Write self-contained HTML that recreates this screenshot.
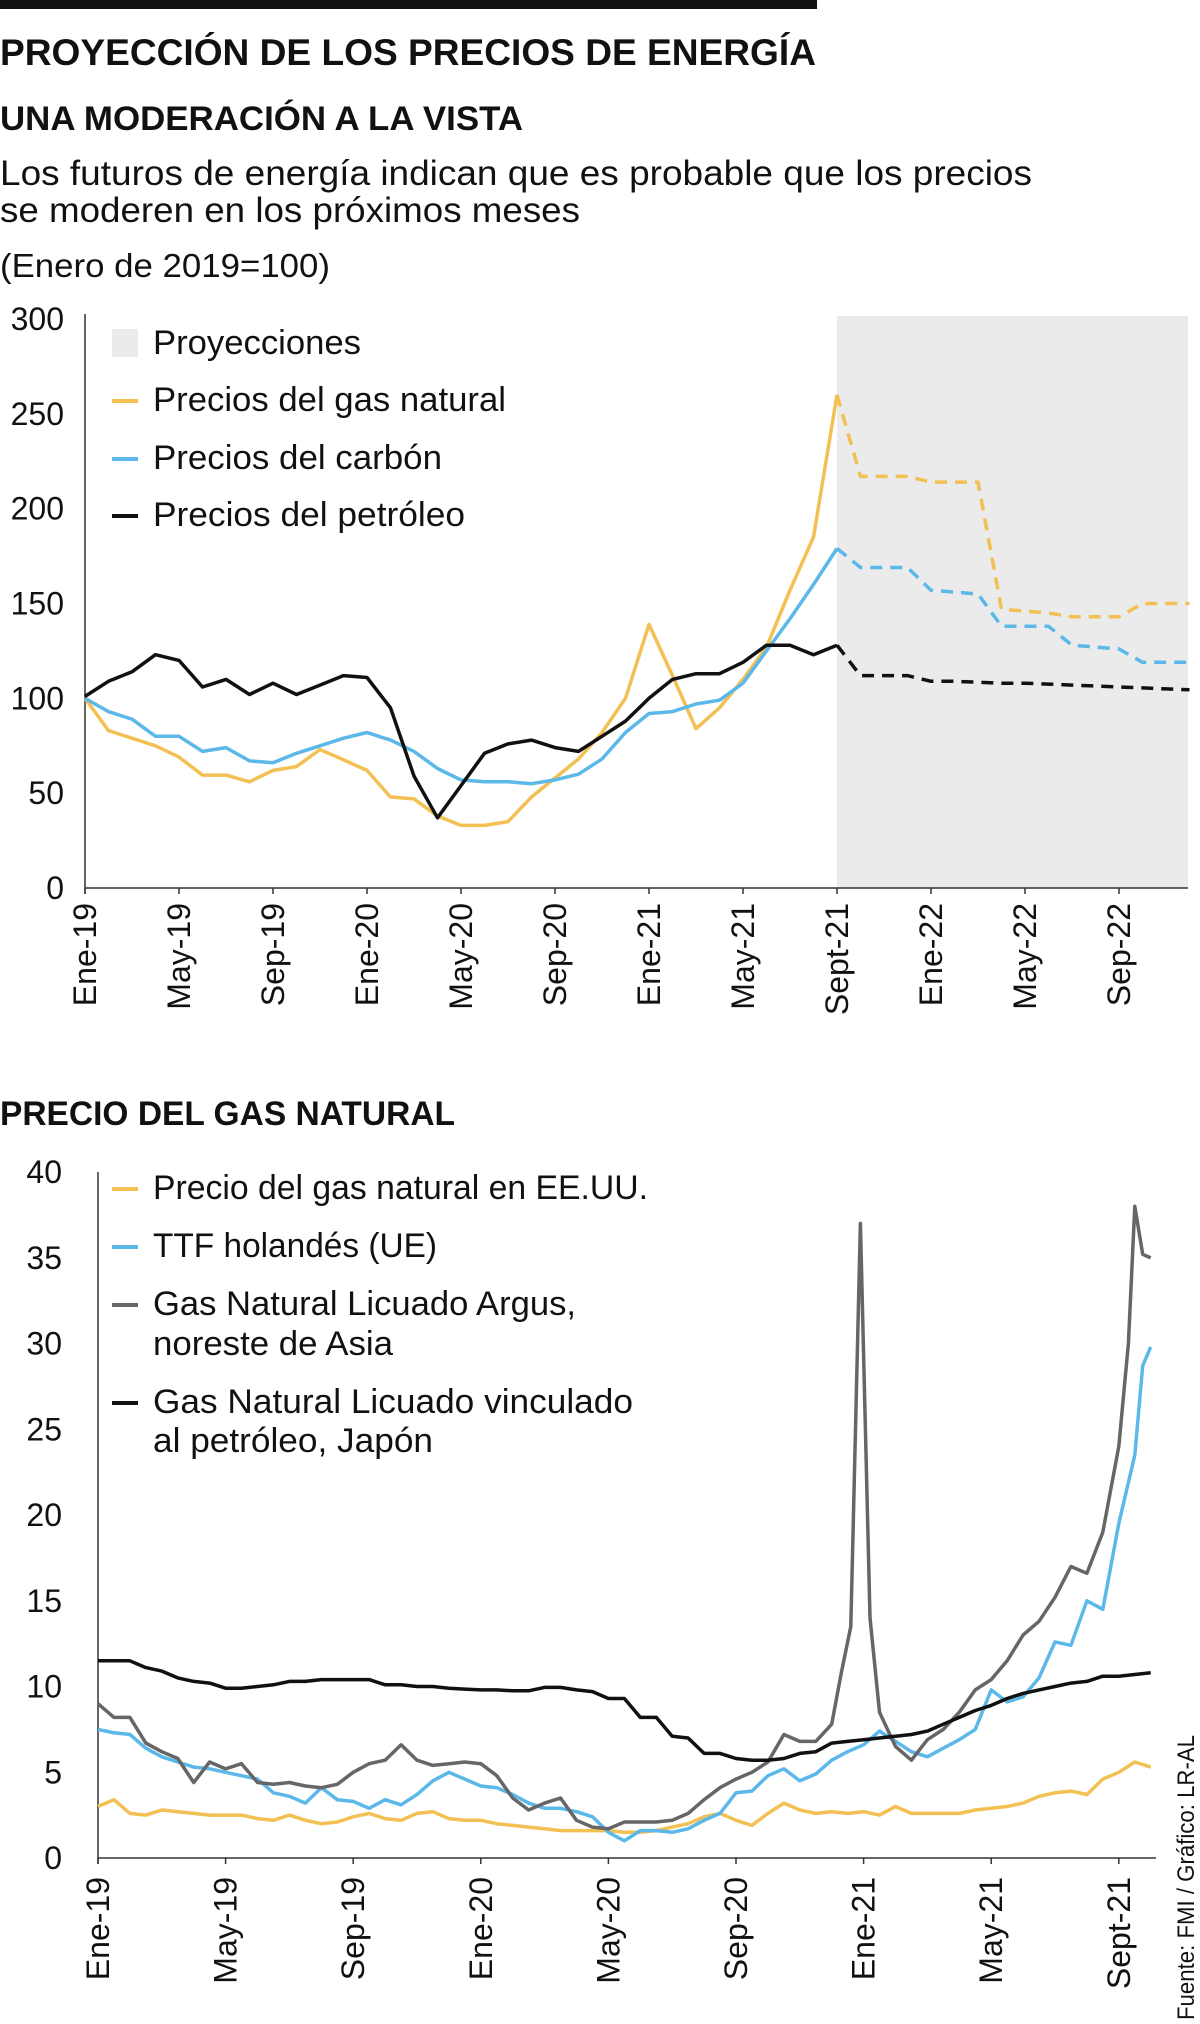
<!DOCTYPE html>
<html><head><meta charset="utf-8"><style>
html,body{margin:0;padding:0;background:#fff;}
svg{display:block;font-family:"Liberation Sans",sans-serif;}
</style></head><body>
<svg id="svg" width="1200" height="2024" viewBox="0 0 1200 2024" xmlns="http://www.w3.org/2000/svg">
<rect x="0" y="0" width="817" height="9" fill="#111"/>
<text x="0" y="65" font-size="37" font-weight="bold" fill="#111" textLength="816" lengthAdjust="spacingAndGlyphs">PROYECCIÓN DE LOS PRECIOS DE ENERGÍA</text>
<text x="0" y="130" font-size="34" font-weight="bold" fill="#111" textLength="523" lengthAdjust="spacingAndGlyphs">UNA MODERACIÓN A LA VISTA</text>
<text x="0" y="185" font-size="35" fill="#111" textLength="1032" lengthAdjust="spacingAndGlyphs">Los futuros de energía indican que es probable que los precios</text>
<text x="0" y="222" font-size="35" fill="#111" textLength="580" lengthAdjust="spacingAndGlyphs">se moderen en los próximos meses</text>
<text x="0" y="277" font-size="33" fill="#111" textLength="330" lengthAdjust="spacingAndGlyphs">(Enero de 2019=100)</text>
<g id="chart1"></g>
<text x="0" y="1125" font-size="34" font-weight="bold" fill="#111" textLength="455" lengthAdjust="spacingAndGlyphs">PRECIO DEL GAS NATURAL</text>
<g id="chart2"></g>
<text x="1194" y="2020" font-size="24" fill="#111" textLength="285" lengthAdjust="spacingAndGlyphs" transform="rotate(-90 1194 2020)">Fuente: FMI / Gráfico: LR-AL</text>
</svg>
<script>
// ---------- Chart 1 data ----------
const c1XLabels = ["Ene-19","May-19","Sep-19","Ene-20","May-20","Sep-20","Ene-21","May-21","Sept-21","Ene-22","May-22","Sep-22"];
const c1YTicks = [0,50,100,150,200,250,300];
const gasHist = [100,83,79,75,69,59.5,59.5,56,62,64,73,67.6,62,48,47,38,33,33,35,48,58,68,82,100,139,112,84,95,110,127,157,185,260];
const coalHist = [100,93,89,80,80,72,74,67,66,71,75,79,82,78,72,63,57,56,56,55,57,60,68,82,92,93,97,99,108,125,142,160,179];
const oilHist = [101,109,114,123,120,106,110,102,108,102,107,112,111,95,59,37,54,71,76,78,74,72,80,88,100,110,113,113,119,128,128,123,128];
const gasProj = [260,217,217,217,214,214,214,147,146,145,143,143,143,150,150,150];
const coalProj = [179,169,169,169,157,156,155,138,138,138,128,127,126,119,119,119];
const oilProj = [128,112,112,112,109,109,108.5,108,108,107.5,107,106.5,106,105.5,105,104.5];
const projStart = 32;

// ---------- Chart 2 data ----------
const c2XLabels = ["Ene-19","May-19","Sep-19","Ene-20","May-20","Sep-20","Ene-21","May-21","Sept-21"];
const c2YTicks = [0,5,10,15,20,25,30,35,40];
const halfMonths = [0,0.5,1,1.5,2,2.5,3,3.5,4,4.5,5,5.5,6,6.5,7,7.5,8,8.5,9,9.5,10,10.5,11,11.5,12,12.5,13,13.5,14,14.5,15,15.5,16,16.5,17,17.5,18,18.5,19,19.5,20,20.5,21,21.5,22,22.5,23,23.5,24,24.5,25,25.5,26,26.5,27,27.5,28,28.5,29,29.5,30,30.5,31,31.5,32,32.5,33];
const usGas = [3.0,3.4,2.6,2.5,2.8,2.7,2.6,2.5,2.5,2.5,2.3,2.2,2.5,2.2,2.0,2.1,2.4,2.6,2.3,2.2,2.6,2.7,2.3,2.2,2.2,2.0,1.9,1.8,1.7,1.6,1.6,1.6,1.6,1.5,1.5,1.6,1.8,2.0,2.4,2.6,2.2,1.9,2.6,3.2,2.8,2.6,2.7,2.6,2.7,2.5,3.0,2.6,2.6,2.6,2.6,2.8,2.9,3.0,3.2,3.6,3.8,3.9,3.7,4.6,5.0,5.6,5.3];
const japanLng = [11.5,11.5,11.5,11.1,10.9,10.5,10.3,10.2,9.9,9.9,10.0,10.1,10.3,10.3,10.4,10.4,10.4,10.4,10.1,10.1,10.0,10.0,9.9,9.85,9.8,9.8,9.75,9.75,9.95,9.95,9.8,9.7,9.3,9.3,8.2,8.2,7.1,7.0,6.1,6.1,5.8,5.7,5.7,5.8,6.1,6.2,6.7,6.8,6.9,7.0,7.1,7.2,7.4,7.8,8.2,8.6,8.9,9.3,9.6,9.8,10.0,10.2,10.3,10.6,10.6,10.7,10.8];
const ttfMonths = halfMonths.slice(0,66).concat([32.75,33]);
const ttfVals = [7.5,7.3,7.2,6.4,5.9,5.6,5.3,5.2,5.0,4.8,4.6,3.8,3.6,3.2,4.1,3.4,3.3,2.9,3.4,3.1,3.7,4.5,5.0,4.6,4.2,4.1,3.7,3.2,2.9,2.9,2.7,2.4,1.5,1.0,1.6,1.6,1.5,1.7,2.2,2.6,3.8,3.9,4.8,5.2,4.5,4.9,5.7,6.2,6.6,7.4,6.8,6.2,5.9,6.4,6.9,7.5,9.8,9.1,9.4,10.5,12.6,12.4,15.0,14.5,19.5,23.5,28.7,29.8];
const argusMonths = [0,0.5,1,1.5,2,2.5,3,3.5,4,4.5,5,5.5,6,6.5,7,7.5,8,8.5,9,9.5,10,10.5,11,11.5,12,12.5,13,13.5,14,14.5,15,15.5,16,16.5,17,17.5,18,18.5,19,19.5,20,20.5,21,21.5,22,22.5,23,23.3,23.6,23.9,24.2,24.5,25,25.5,26,26.5,27,27.5,28,28.5,29,29.5,30,30.5,31,31.5,32,32.3,32.5,32.75,33];
const argusVals = [9.0,8.2,8.2,6.7,6.2,5.8,4.4,5.6,5.2,5.5,4.4,4.3,4.4,4.2,4.1,4.3,5.0,5.5,5.7,6.6,5.7,5.4,5.5,5.6,5.5,4.8,3.5,2.8,3.2,3.5,2.2,1.8,1.7,2.1,2.1,2.1,2.2,2.6,3.4,4.1,4.6,5.0,5.6,7.2,6.8,6.8,7.8,10.8,13.5,37.0,14.0,8.5,6.5,5.7,6.9,7.5,8.5,9.8,10.4,11.5,13.0,13.8,15.2,17.0,16.6,19.0,24.0,30.0,38.0,35.2,35.0];

const NS = "http://www.w3.org/2000/svg";
function mk(tag, attrs, parent){const e=document.createElementNS(NS,tag);for(const k in attrs)e.setAttribute(k,attrs[k]);parent.appendChild(e);return e;}
const YEL="#f2c053", BLU="#5bb8e8", GRY="#666666", BLK="#111111";

// ---------- Chart 1 ----------
(function(){
  const g=document.getElementById('chart1');
  const x0=85, dx=23.5, y0=888, yTop=319, vMax=300;
  const X=m=>x0+m*dx, Y=v=>y0-(v/vMax)*(y0-yTop);
  const shade=mk('rect',{x:X(projStart),y:316,width:1188-X(projStart),height:y0-316,fill:"#ebebeb"},g);
  
  
  const ax=mk('line',{x1:x0,y1:y0,x2:1188,y2:y0,stroke:"#333","stroke-width":1.5},g);
  
  
  const ay=mk('line',{x1:x0,y1:yTop-5,x2:x0,y2:y0+6,stroke:"#333","stroke-width":1.5},g);
  
  
  c1YTicks.forEach(v=>{
    const t=mk('text',{x:64,y:Y(v)+11,"font-size":32,"text-anchor":"end",fill:"#111"},g);
    t.textContent=v;
    
    
  });
  c1XLabels.forEach((lab,i)=>{
    const x=X(i*4);
    const tk=mk('line',{x1:x,y1:y0,x2:x,y2:y0+6,stroke:"#333","stroke-width":1.5},g);
    
    
    const tx=x+11, ty=903;
    const t=mk('text',{x:tx,y:ty,"font-size":32,"text-anchor":"end",fill:"#111",transform:`rotate(-90 ${tx} ${ty})`},g);
    t.textContent=lab;
    
    
  });
  function line(vals,start,color,dash,name){
    const d=vals.map((v,i)=>(i?'L':'M')+X(start+i).toFixed(1)+' '+Y(v).toFixed(1)).join(' ');
    const p=mk('path',{d:d,fill:"none",stroke:color,"stroke-width":3.5,"stroke-linejoin":"round"},g);
    if(dash)p.setAttribute('stroke-dasharray','12 8');
    
    
  }
  line(gasHist,0,YEL,false,'gas-price-line');
  line(coalHist,0,BLU,false,'coal-price-line');
  line(oilHist,0,BLK,false,'oil-price-line');
  line(gasProj,projStart,YEL,true,'gas-projection-line');
  line(coalProj,projStart,BLU,true,'coal-projection-line');
  line(oilProj,projStart,BLK,true,'oil-projection-line');
  const leg=[["Proyecciones",null,208],["Precios del gas natural",YEL,353],["Precios del carbón",BLU,289],["Precios del petróleo",BLK,312]];
  const ly=[342,399,457,514];
  leg.forEach((L,i)=>{
    if(L[1]===null){
      const r=mk('rect',{x:112,y:ly[i]-13,width:26,height:28,fill:"#ebebeb"},g);
      
      
    } else {
      const s=mk('line',{x1:112,y1:ly[i]+2,x2:138,y2:ly[i]+2,stroke:L[1],"stroke-width":4},g);
      
      
    }
    const t=mk('text',{x:153,y:ly[i]+12,"font-size":34,fill:"#111",textLength:L[2],lengthAdjust:"spacingAndGlyphs"},g);
    t.textContent=L[0];
    
    
  });
})();

// ---------- Chart 2 ----------
(function(){
  const g=document.getElementById('chart2');
  const x0=98, dx=31.9, y0=1858, yTop=1172, vMax=40;
  const X=m=>x0+m*dx, Y=v=>y0-(v/vMax)*(y0-yTop);
  const ax=mk('line',{x1:x0,y1:y0,x2:1156,y2:y0,stroke:"#333","stroke-width":1.5},g);
  
  
  const ay=mk('line',{x1:x0,y1:1172,x2:x0,y2:y0+6,stroke:"#333","stroke-width":1.5},g);
  
  
  c2YTicks.forEach(v=>{
    const t=mk('text',{x:62,y:Y(v)+11,"font-size":32,"text-anchor":"end",fill:"#111"},g);
    t.textContent=v;
    
    
  });
  c2XLabels.forEach((lab,i)=>{
    const x=X(i*4);
    const tk=mk('line',{x1:x,y1:y0,x2:x,y2:y0+6,stroke:"#333","stroke-width":1.5},g);
    
    
    const tx=x+11, ty=1877;
    const t=mk('text',{x:tx,y:ty,"font-size":32,"text-anchor":"end",fill:"#111",transform:`rotate(-90 ${tx} ${ty})`},g);
    t.textContent=lab;
    
    
  });
  function line(ms,vals,color,name){
    const d=vals.map((v,i)=>(i?'L':'M')+X(ms[i]).toFixed(1)+' '+Y(v).toFixed(1)).join(' ');
    const p=mk('path',{d:d,fill:"none",stroke:color,"stroke-width":3.5,"stroke-linejoin":"round"},g);
    
    
  }
  line(halfMonths,usGas,YEL,'us-gas-line');
  line(ttfMonths,ttfVals,BLU,'ttf-line');
  line(argusMonths,argusVals,GRY,'argus-lng-line');
  line(halfMonths,japanLng,BLK,'japan-lng-line');
  const leg=[["Precio del gas natural en EE.UU.",YEL,495,1187],["TTF holandés (UE)",BLU,284,1245],["Gas Natural Licuado Argus,",GRY,423,1303],["noreste de Asia",null,240,1343],["Gas Natural Licuado vinculado",BLK,480,1401],["al petróleo, Japón",null,280,1440]];
  leg.forEach(L=>{
    if(L[1]){
      const s=mk('line',{x1:112,y1:L[3]+2,x2:138,y2:L[3]+2,stroke:L[1],"stroke-width":4},g);
      
      
    }
    const t=mk('text',{x:153,y:L[3]+12,"font-size":34,fill:"#111",textLength:L[2],lengthAdjust:"spacingAndGlyphs"},g);
    t.textContent=L[0];
    
    
  });
})();
</script>
</body></html>
